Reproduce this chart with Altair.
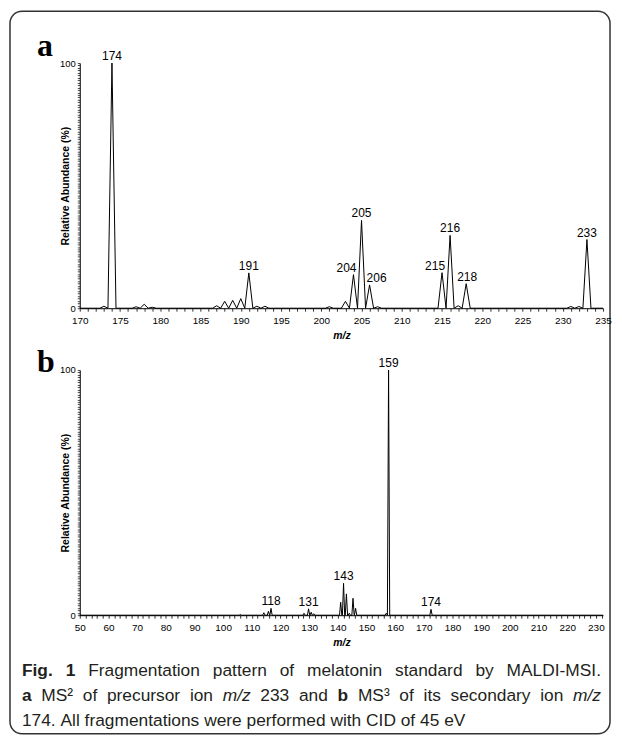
import altair as alt
import pandas as pd

# ---------------- values ----------------
# a: MS2 of precursor ion m/z 233 -- peak centre (m/z) and relative abundance (%)
a_mz = [173, 174, 177, 178, 179, 187, 188, 189, 190, 191, 192, 193,
        201, 203, 204, 205, 206, 207, 215, 216, 217, 218, 231, 232, 233]
a_ab = [0.8, 100.0, 0.6, 1.6, 0.4, 1.0, 2.8, 3.2, 3.9, 14.4, 0.8, 0.8,
        0.6, 2.8, 13.7, 35.8, 9.5, 0.6, 14.5, 29.7, 1.0, 10.0, 0.7, 0.7, 28.0]
a_labels = ["174", "191", "204", "205", "206", "215", "216", "218", "233"]
a_label_mz = [174, 191, 204, 205, 206, 215, 216, 218, 233]
a_label_ab = [100.0, 14.4, 13.7, 35.8, 9.5, 14.5, 29.7, 10.0, 28.0]

# b: MS3 of secondary ion m/z 174
b_mz = [106.0, 114.2, 115.8, 116.7, 128.2, 129.8, 130.7, 131.6,
        141.0, 142.0, 143.0, 144.0, 145.3, 146.2, 156.9, 157.7, 172.5]
b_ab = [0.3, 1.0, 1.6, 2.8, 0.8, 2.6, 1.2, 0.6,
        5.3, 13.0, 8.7, 0.8, 6.9, 2.8, 0.8, 100.0, 2.4]
b_labels = ["118", "131", "143", "159", "174"]
b_label_mz = [116.7, 129.8, 142.0, 157.7, 172.5]
b_label_ab = [2.8, 2.6, 13.0, 100.0, 2.4]

a_x_domain = [170, 235]
b_x_domain = [50, 232.5]
y_domain = [0, 100]
a_x_ticks = list(range(170, 236))
b_x_ticks = list(range(50, 233, 2))
y_ticks = list(range(0, 101))
a_label_every = 5
b_label_every = 10
y_labels_shown = [0, 100]

panel_letters = ["a", "b"]
caption_lines = [
    [("Fig.", "bold"), ("1", "bold"), ("Fragmentation", "normal"), ("pattern", "normal"),
     ("of", "normal"), ("melatonin", "normal"), ("standard", "normal"), ("by", "normal"),
     ("MALDI-MSI.", "normal")],
    [("a", "bold"), ("MS\u00b2", "normal"), ("of", "normal"), ("precursor", "normal"),
     ("ion", "normal"), ("m/z", "italic"), ("233", "normal"), ("and", "normal"),
     ("b", "bold"), ("MS\u00b3", "normal"), ("of", "normal"), ("its", "normal"),
     ("secondary", "normal"), ("ion", "normal"), ("m/z", "italic")],
    [("174.", "normal"), ("All", "normal"), ("fragmentations", "normal"), ("were", "normal"),
     ("performed", "normal"), ("with", "normal"), ("CID", "normal"), ("of", "normal"),
     ("45", "normal"), ("eV", "normal")],
]
caption_justified = [True, True, False]

# ---------------- layout / style ----------------
FONT = "Liberation Sans"
W, H = 602, 725                 # framed figure area (view)
X0, X1 = 70, 595                # plot extents (both panels)
A_RANGE_Y = [298, 52]
B_RANGE_Y = [606, 360]
HW_A, HW_B = 0.5, 0.4           # half width of drawn peaks (m/z units)
a_label_nudge = [0, 0, -7, 0, 7, -7, 0, 1, 0]
b_label_nudge = [0, 0, 0, 0, 0]
LETTER_X = 27
LETTER_Y = [45, 362]
CAP_SIZE = 17.4
CAP_X0, CAP_X1 = 12, 593
CAP_Y = [667, 692, 717]
CAP_COLOR = "#231f20"

# Arial-compatible advance widths (em) for caption layout
REG = {' ': .278, '.': .278, '-': .333, '/': .278, '\u00b2': .333, '\u00b3': .333,
       'A': .667, 'C': .722, 'D': .722, 'F': .611, 'I': .278, 'L': .556, 'M': .833,
       'S': .667, 'V': .667,
       'a': .556, 'b': .556, 'c': .5, 'd': .556, 'e': .556, 'f': .278, 'g': .556,
       'h': .556, 'i': .222, 'l': .222, 'm': .833, 'n': .556, 'o': .556, 'p': .556,
       'r': .333, 's': .5, 't': .278, 'u': .556, 'w': .722, 'y': .5, 'z': .5}
BOLD = dict(REG)
BOLD.update({'i': .278, 'g': .611, 'b': .611, 'F': .611})


def text_w(t, style):
    table = BOLD if style == "bold" else REG
    return sum(table.get(ch, .556) for ch in t) * CAP_SIZE


rows = []
for li, (tokens, just) in enumerate(zip(caption_lines, caption_justified)):
    widths = [text_w(t, s) for t, s in tokens]
    gap = (CAP_X1 - CAP_X0 - sum(widths)) / (len(tokens) - 1) if just else REG[' '] * CAP_SIZE
    x = CAP_X0
    for (t, s), w in zip(tokens, widths):
        rows.append({"t": t, "style": s, "px": x, "py": CAP_Y[li]})
        x += w + gap
cap_df = pd.DataFrame(rows)


def profile_df(mz, ab, dom, hw):
    pts = [(dom[0], 0.0), (dom[1], 0.0)]
    for m, h in zip(mz, ab):
        pts += [(m - hw, 0.0), (m, h), (m + hw, 0.0)]
    pts.sort(key=lambda p: p[0])
    return pd.DataFrame({"mz": [p[0] for p in pts], "ab": [p[1] for p in pts],
                         "o": list(range(len(pts)))})


def x_enc(domain, ticks, every, y_pos):
    return alt.X("mz:Q",
                 scale=alt.Scale(domain=domain, range=[X0, X1], nice=False, zero=False),
                 axis=alt.Axis(orient="bottom", offset=y_pos - H, values=ticks,
                               labelExpr=f"datum.value % {every} === 0 ? datum.label : ''",
                               title="m/z", titleFontStyle="italic", titleFontWeight="bold",
                               titleFontSize=10.5, titlePadding=5,
                               labelFontSize=10, labelPadding=4, tickSize=3, tickWidth=0.8,
                               domainWidth=1, labelFlush=False, labelOverlap=False,
                               labelBound=False, grid=False))


def y_enc(rng):
    expr = " || ".join(f"datum.value === {v}" for v in y_labels_shown)
    return alt.Y("ab:Q",
                 scale=alt.Scale(domain=y_domain, range=rng, nice=False, zero=False),
                 axis=alt.Axis(orient="left", offset=-X0, values=y_ticks,
                               labelExpr=f"({expr}) ? datum.label : ''",
                               title="Relative Abundance (%)", titleFontSize=10.5,
                               titleFontWeight="bold", titleX=-14,
                               titleY=(rng[0] + rng[1]) / 2, titleAngle=270,
                               titleAlign="center", titleBaseline="middle",
                               labelFontSize=9.5, labelPadding=2, tickSize=2.5, tickWidth=0.7,
                               domainWidth=1, grid=False, labelOverlap=False,
                               labelBound=False, labelFlush=False))


def panel(mz, ab, labels, lmz, lab, nudge, dom, ticks, every, yrng, hw):
    xe = x_enc(dom, ticks, every, yrng[0])
    ye = y_enc(yrng)
    line = alt.Chart(profile_df(mz, ab, dom, hw)).mark_line(
        color="black", strokeWidth=1).encode(x=xe, y=ye, order="o:Q")
    ldf = pd.DataFrame({"mz": lmz, "ab": lab, "t": labels, "dx": nudge})
    layers = [line]
    for d in sorted(set(nudge)):
        layers.append(alt.Chart(ldf).transform_filter(alt.datum.dx == d).mark_text(
            dx=d, dy=-3, baseline="alphabetic", align="center", font=FONT,
            fontSize=12, color="black").encode(x=xe, y=ye, text="t:N"))
    return alt.layer(*layers)


panel_a = panel(a_mz, a_ab, a_labels, a_label_mz, a_label_ab, a_label_nudge,
                a_x_domain, a_x_ticks, a_label_every, A_RANGE_Y, HW_A)
panel_b = panel(b_mz, b_ab, b_labels, b_label_mz, b_label_ab, b_label_nudge,
                b_x_domain, b_x_ticks, b_label_every, B_RANGE_Y, HW_B)

let_df = pd.DataFrame({"t": panel_letters, "px": [LETTER_X] * 2, "py": LETTER_Y})
letters = alt.Chart(let_df).mark_text(
    font="Liberation Serif", fontWeight="bold", fontSize=32, align="left",
    baseline="alphabetic", color="black").encode(
    x=alt.X("px:Q", scale=None, axis=None), y=alt.Y("py:Q", scale=None, axis=None),
    text="t:N")

cap_layers = []
for style in ["normal", "bold", "italic"]:
    kw = dict(font=FONT, fontSize=CAP_SIZE, align="left", baseline="alphabetic",
              color=CAP_COLOR)
    if style == "bold":
        kw["fontWeight"] = "bold"
    if style == "italic":
        kw["fontStyle"] = "italic"
    cap_layers.append(alt.Chart(cap_df).transform_filter(alt.datum.style == style)
                      .mark_text(**kw).encode(
        x=alt.X("px:Q", scale=None, axis=None), y=alt.Y("py:Q", scale=None, axis=None),
        text="t:N"))

chart = alt.layer(panel_a, panel_b, letters, *cap_layers).resolve_scale(
    x="independent", y="independent").properties(
    width=W, height=H, padding=2, background="white").configure_view(
    stroke="#333333", strokeWidth=1.5, cornerRadius=12).configure_axis(
    labelFont=FONT, titleFont=FONT, labelColor="black", titleColor="black",
    domainColor="black", tickColor="black")

chart.save("out.html", embed_options={"renderer": "svg", "actions": False})
